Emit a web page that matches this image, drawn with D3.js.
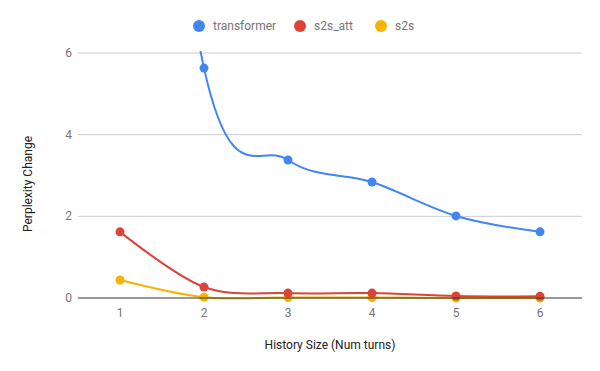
<!DOCTYPE html>
<html>
<head>
<meta charset="utf-8">
<script src="https://d3js.org/d3.v7.min.js"></script>
<style>
  body { margin: 0; background: #fff; }
  text { font-family: Roboto, Arial, sans-serif; }
</style>
</head>
<body>
<div id="chart"></div>
<script>
// data (transformer at 1 is above the top of the chart)
var turns = [1, 2, 3, 4, 5, 6];
var transformer = [22, 5.63, 3.38, 2.84, 2.01, 1.62];
var s2sAtt = [1.62, 0.27, 0.12, 0.12, 0.05, 0.04];
var s2s = [0.44, 0.02, 0.01, 0.01, 0.0, 0.0];
var yTicks = [0, 2, 4, 6];
var seriesNames = ["transformer", "s2s_att", "s2s"];
var colors = ["#4285f4", "#db4437", "#f4b400"];

var W = 600, H = 371;
var margin = {top: 53, right: 18, bottom: 73, left: 78};
var width = W - margin.left - margin.right,
    height = H - margin.top - margin.bottom;

var svg = d3.select("#chart").append("svg")
    .attr("width", W).attr("height", H);

var x = d3.scaleLinear().domain([0.5, 6.5]).range([margin.left, margin.left + width]);
var y = d3.scaleLinear().domain([0, 6]).range([margin.top + height, margin.top]);

// gridlines
svg.append("g").selectAll("line")
    .data(yTicks.filter(function(d) { return d != 0; }))
    .enter().append("line")
    .attr("x1", x(0.5)).attr("x2", x(6.5))
    .attr("y1", function(d) { return y(d); })
    .attr("y2", function(d) { return y(d); })
    .attr("stroke", "#cccccc").attr("stroke-width", 1);

// y labels
svg.append("g").selectAll("text")
    .data(yTicks).enter().append("text")
    .attr("x", margin.left - 6)
    .attr("y", function(d) { return y(d) + 4; })
    .attr("text-anchor", "end")
    .attr("font-size", 12).attr("fill", "#757575")
    .text(function(d) { return d; });

// x labels
svg.append("g").selectAll("text")
    .data(turns).enter().append("text")
    .attr("x", function(d) { return x(d); })
    .attr("y", y(0) + 19)
    .attr("text-anchor", "middle")
    .attr("font-size", 12).attr("fill", "#757575")
    .text(function(d) { return d; });

// axis titles
svg.append("text")
    .attr("x", (x(0.5) + x(6.5)) / 2).attr("y", 349)
    .attr("text-anchor", "middle").attr("font-size", 12).attr("fill", "#222")
    .text("History Size (Num turns)");
svg.append("text")
    .attr("transform", "translate(32,184) rotate(-90)")
    .attr("text-anchor", "middle").attr("font-size", 12).attr("fill", "#222")
    .text("Perplexity Change");

// clip for the lines
svg.append("clipPath").attr("id", "plot")
    .append("rect")
    .attr("x", margin.left).attr("y", margin.top - 2)
    .attr("width", width).attr("height", height + 10);

var allSeries = [transformer, s2sAtt, s2s];
var line = d3.line()
    .x(function(d, i) { return x(turns[i]); })
    .y(function(d) { return y(d); })
    .curve(d3.curveCatmullRom.alpha(0));

var plot = svg.append("g").attr("clip-path", "url(#plot)");

// draw back to front so blue sits on top of the others
for (var s = allSeries.length - 1; s >= 0; s--) {
    plot.append("path")
        .datum(allSeries[s])
        .attr("d", line)
        .attr("fill", "none")
        .attr("stroke", colors[s])
        .attr("stroke-width", 2);
    plot.selectAll(".pt" + s)
        .data(allSeries[s]).enter().append("circle")
        .attr("cx", function(d, i) { return x(turns[i]); })
        .attr("cy", function(d) { return y(d); })
        .attr("r", 4.5)
        .attr("fill", colors[s]);
}

// baseline
svg.append("line")
    .attr("x1", x(0.5)).attr("x2", x(6.5))
    .attr("y1", y(0)).attr("y2", y(0))
    .attr("stroke", "#333333").attr("stroke-width", 1);

// legend
var legendX = [199, 300, 381];
var legend = svg.append("g");
seriesNames.forEach(function(name, i) {
    legend.append("circle")
        .attr("cx", legendX[i]).attr("cy", 26).attr("r", 6)
        .attr("fill", colors[i]);
    legend.append("text")
        .attr("x", legendX[i] + 14).attr("y", 30)
        .attr("font-size", 12).attr("fill", "#757575")
        .text(name);
});
</script>
</body>
</html>
